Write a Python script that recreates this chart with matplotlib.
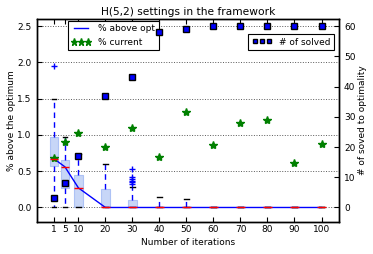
import matplotlib
matplotlib.use("Agg")
import matplotlib.pyplot as plt

plt.rcParams.update({
    'font.family': 'DejaVu Sans',
    'font.size': 6.5,
    'xtick.direction': 'in',
    'ytick.direction': 'in',
    'xtick.top': True,
    'xtick.major.size': 3.5,
    'ytick.major.size': 3.5,
    'xtick.major.pad': 2.5,
    'axes.linewidth': 1.0,
})

iterations = [1, 5, 10, 20, 30, 40, 50, 60, 70, 80, 90, 100]
box_med = [0.67, 0.56, 0.27, 0, 0, 0, 0, 0, 0, 0, 0, 0]
box_q1 = [0.57, 0.27, 0, 0, 0, 0, 0, 0, 0, 0, 0, 0]
box_q3 = [0.975, 0.655, 0.45, 0.25, 0.105, 0, 0, 0, 0, 0, 0, 0]
box_whislo = [0, 0, 0, 0, 0, 0, 0, 0, 0, 0, 0, 0]
box_whishi = [1.5, 0.965, 0.74, 0.60, 0.28, 0.14, 0.11, 0, 0, 0, 0, 0]
box_fliers = [[1.95], [], [], [], [0.32, 0.35, 0.37, 0.39, 0.42, 0.53], [], [], [], [], [], [], []]
pct_current = [0.68, 0.90, 1.02, 0.84, 1.10, 0.70, 1.31, 0.86, 1.16, 1.21, 0.61, 0.87]
n_solved = [3, 8, 17, 37, 43, 58, 59, 60, 60, 60, 60, 60]

fig = plt.figure(figsize=(3.73, 2.54), dpi=100)
ax = fig.add_axes([0.098, 0.126, 0.811, 0.8])

stats = []
for i in range(len(iterations)):
    stats.append(dict(med=box_med[i], q1=box_q1[i], q3=box_q3[i],
                      whislo=box_whislo[i], whishi=box_whishi[i],
                      fliers=box_fliers[i]))

ax.bxp(stats, positions=iterations, widths=3.2, patch_artist=True,
       boxprops=dict(facecolor=(0.78, 0.84, 0.97), edgecolor=(0.68, 0.76, 0.96), linewidth=0.8),
       whiskerprops=dict(color='b', linestyle='--', linewidth=1.0, dashes=(4, 3)),
       capprops=dict(color='k', linewidth=1.0),
       medianprops=dict(color='r', linewidth=1.0),
       flierprops=dict(marker='+', markeredgecolor='b', markersize=5, linestyle='none'),
       manage_ticks=False)

l1, = ax.plot(iterations, box_med, 'b-', linewidth=1.0, label='% above opt')
l2, = ax.plot(iterations, pct_current, '*', color='g', markeredgecolor='g',
              markersize=6, linestyle='none', label='% current')

ax.set_xlim(-5.5, 106.5)
ax.set_ylim(-0.2, 2.6)
ax.set_xticks(iterations)
ax.set_xticklabels([str(v) for v in iterations])
ax.set_yticks([0.0, 0.5, 1.0, 1.5, 2.0, 2.5])
ax.yaxis.grid(True, linestyle=':', color='0.35', linewidth=0.7)
ax.set_xlabel('Number of iterations', labelpad=2.5)
ax.set_ylabel('% above the optimum', labelpad=1)
ax.set_title('H(5,2) settings in the framework', fontsize=7.7, pad=3)

ax2 = ax.twinx()
l3, = ax2.plot(iterations, n_solved, 's', color='b', markeredgecolor='k',
               markersize=4.5, linestyle='none', label='# of solved')
ax2.set_ylim(-4.8, 62.4)
ax2.set_yticks([0, 10, 20, 30, 40, 50, 60])
ax2.set_ylabel('# of soved to optimality', labelpad=2)
ax2.tick_params(direction='in')

leg1 = ax.legend(handles=[l1, l2], loc='upper left', bbox_to_anchor=(0.097, 1.0),
                 borderaxespad=0.2, numpoints=3, fancybox=False, edgecolor='k',
                 framealpha=1, handlelength=2.2, markerscale=0.85, fontsize=6.5)
leg1.get_frame().set_linewidth(0.8)
leg2 = ax2.legend(handles=[l3], loc='upper right', bbox_to_anchor=(0.984, 0.925),
                  borderaxespad=0.0, numpoints=3, fancybox=False, edgecolor='k',
                  framealpha=1, handlelength=2.2, markerscale=0.75, fontsize=6.5)
leg2.get_frame().set_linewidth(0.8)

fig.savefig('out.png', dpi=100)
